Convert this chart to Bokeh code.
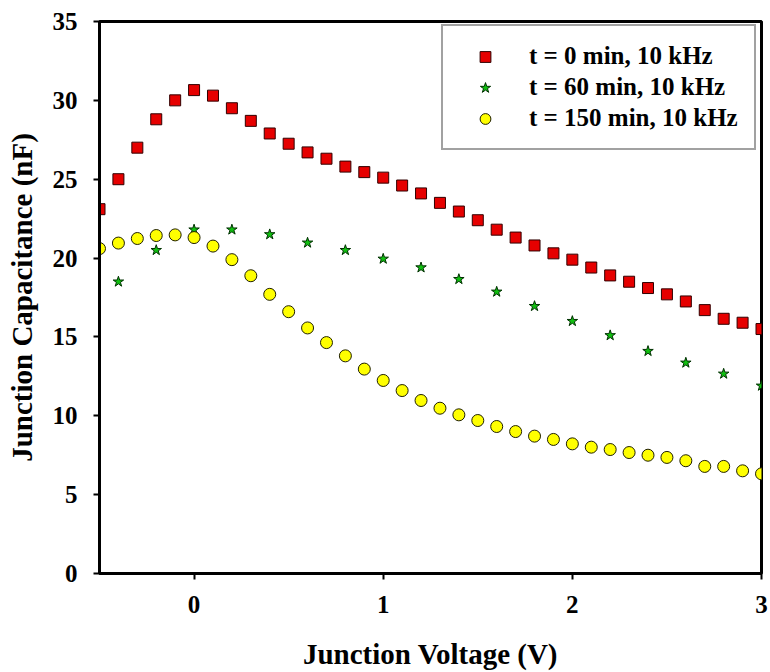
from bokeh.plotting import figure
from bokeh.models import Range1d, FixedTicker, Legend, LegendItem
from bokeh.embed import file_html
from bokeh.resources import INLINE

# ---- data ----
v_red = [-0.5, -0.4, -0.3, -0.2, -0.1, 0.0, 0.1, 0.2, 0.3, 0.4, 0.5, 0.6, 0.7, 0.8, 0.9,
         1.0, 1.1, 1.2, 1.3, 1.4, 1.5, 1.6, 1.7, 1.8, 1.9, 2.0, 2.1, 2.2, 2.3, 2.4, 2.5,
         2.6, 2.7, 2.8, 2.9, 3.0]
c_t0 = [23.1, 25.0, 27.0, 28.8, 30.0, 30.65, 30.3, 29.5, 28.7, 27.9, 27.25, 26.7, 26.3,
        25.8, 25.45, 25.1, 24.6, 24.1, 23.5, 22.95, 22.4, 21.8, 21.3, 20.8, 20.3, 19.9,
        19.4, 18.9, 18.5, 18.1, 17.7, 17.25, 16.7, 16.15, 15.9, 15.5]

v_green = [-0.4, -0.2, 0.0, 0.2, 0.4, 0.6, 0.8, 1.0, 1.2, 1.4, 1.6, 1.8, 2.0, 2.2, 2.4,
           2.6, 2.8, 3.0]
c_t60 = [18.5, 20.5, 21.8, 21.8, 21.5, 20.97, 20.5, 19.95, 19.4, 18.66, 17.86, 16.95,
         16.0, 15.1, 14.1, 13.36, 12.66, 11.9]

v_yellow = v_red
c_t150 = [20.6, 20.95, 21.24, 21.43, 21.47, 21.3, 20.76, 19.9, 18.88, 17.7, 16.6, 15.57,
          14.64, 13.8, 12.96, 12.24, 11.6, 10.97, 10.48, 10.06, 9.7, 9.32, 9.0, 8.71,
          8.5, 8.22, 8.01, 7.86, 7.67, 7.5, 7.36, 7.15, 6.79, 6.79, 6.51, 6.32]

labels = ["t = 0 min, 10 kHz", "t = 60 min, 10 kHz", "t = 150 min, 10 kHz"]
x_ticks = [0, 1, 2, 3]
y_ticks = [0, 5, 10, 15, 20, 25, 30, 35]

FONT = "Liberation Serif"

p = figure(width=770, height=672, output_backend="svg", toolbar_location=None,
           x_range=Range1d(-0.5, 3.0), y_range=Range1d(0, 35),
           min_border_left=99, min_border_right=9, min_border_top=21, min_border_bottom=99)
p.background_fill_color = "white"
p.border_fill_color = "white"
p.outline_line_color = "black"
p.outline_line_width = 3
p.xgrid.visible = False
p.ygrid.visible = False

r1 = p.scatter(v_red, c_t0, marker="square", size=11, fill_color="#e60000",
               line_color="#300000", line_width=1)
r2 = p.scatter(v_green, c_t60, marker="star", size=11, fill_color="#10c010",
               line_color="#003000", line_width=1)
r3 = p.scatter(v_yellow, c_t150, marker="circle", size=12, fill_color="#ffff00",
               line_color="#202000", line_width=1)

for ax in (p.xaxis[0], p.yaxis[0]):
    ax.axis_line_width = 3
    ax.axis_line_color = "black"
    ax.major_tick_line_width = 2
    ax.major_tick_line_color = "black"
    ax.minor_tick_line_color = None
    ax.major_tick_in = 0
    ax.major_label_text_font = FONT
    ax.major_label_text_font_style = "bold"
    ax.major_label_text_font_size = "25px"
    ax.major_label_text_color = "black"
    ax.axis_label_text_font = FONT
    ax.axis_label_text_font_style = "bold"
    ax.axis_label_text_font_size = "29px"
    ax.axis_label_text_color = "black"

p.xaxis[0].ticker = FixedTicker(ticks=x_ticks)
p.yaxis[0].ticker = FixedTicker(ticks=y_ticks)
p.xaxis[0].major_tick_out = 6
p.yaxis[0].major_tick_out = 6
p.xaxis[0].major_label_standoff = 16
p.yaxis[0].major_label_standoff = 16
p.xaxis[0].axis_label = "Junction Voltage (V)"
p.yaxis[0].axis_label = "Junction Capacitance (nF)"
p.xaxis[0].axis_label_standoff = 22
p.yaxis[0].axis_label_standoff = 12

legend = Legend(items=[LegendItem(label=labels[0], renderers=[r1]),
                       LegendItem(label=labels[1], renderers=[r2]),
                       LegendItem(label=labels[2], renderers=[r3])],
                location=(342, 423))
legend.label_text_font = FONT
legend.label_text_font_style = "bold"
legend.label_text_font_size = "25px"
legend.label_text_color = "black"
legend.border_line_color = "#444444"
legend.border_line_width = 2
legend.background_fill_alpha = 1
legend.padding = 16
legend.margin = 0
legend.spacing = 3
legend.glyph_width = 52
legend.label_standoff = 18
legend.label_height = 27
legend.glyph_height = 27
p.add_layout(legend, "center")

open("out.html", "w").write(file_html(p, INLINE))
